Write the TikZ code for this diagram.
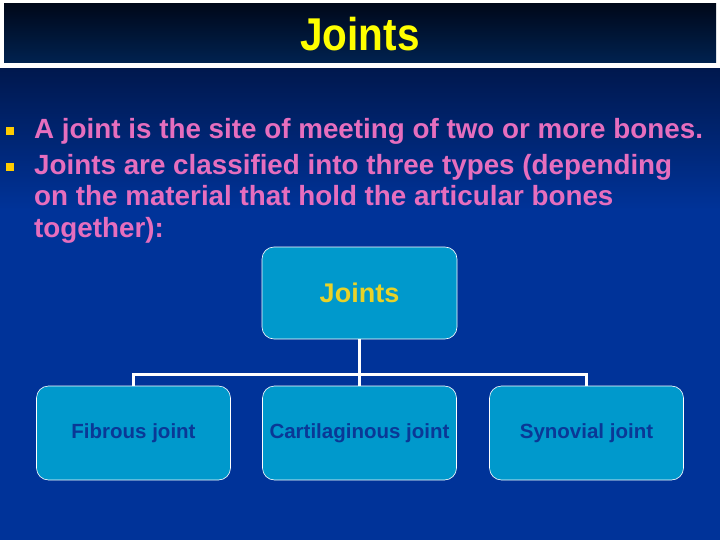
\documentclass[tikz,border=0pt]{standalone}
\usepackage{fontspec}
\setmainfont{Liberation Sans}
\usetikzlibrary{positioning,calc}
\definecolor{titleyellow}{RGB}{255,255,0}
\definecolor{bodypink}{RGB}{230,110,190}
\definecolor{bulletyellow}{RGB}{255,204,0}
\definecolor{boxfill}{RGB}{0,153,204}
\definecolor{boxtext}{RGB}{10,56,150}
\definecolor{boxyellow}{RGB}{232,210,40}
\definecolor{navytop}{RGB}{0,24,78}
\definecolor{navybot}{RGB}{0,51,153}
\definecolor{bartop}{RGB}{0,8,26}
\definecolor{barbot}{RGB}{0,34,80}
\tikzset{
  line/.style={anchor=base west, inner sep=0pt, text=bodypink,
               font=\bfseries\fontsize{27.8}{31}\selectfont},
  bullet/.style={fill=bulletyellow, minimum size=8pt, inner sep=0pt},
  topbox/.style={draw=white, rounded corners=12pt, fill=boxfill,
                 minimum width=195pt, minimum height=92pt, semithick,
                 text=boxyellow, font=\bfseries\fontsize{27}{30}\selectfont},
  kindbox/.style={topbox, minimum width=194pt, minimum height=94pt,
                  text=boxtext, font=\bfseries\fontsize{20.5}{24}\selectfont},
  conn/.style={draw=white, line width=3pt},
}
\begin{document}
\begin{tikzpicture}[x=1pt, y=-1pt]
  \useasboundingbox (0,0) rectangle (720,540);
  % background
  \fill[white] (0,0) rectangle (720,540);
  \shade[top color=bartop, bottom color=barbot] (4,4) rectangle (716,63);
  \shade[top color=navytop, bottom color=navybot] (0,69) rectangle (720,210);
  \fill[navybot] (0,209.5) rectangle (720,540);
  % title
  \node[text=titleyellow, font=\bfseries\fontsize{46}{50}\selectfont] (title)
    at (360,34) {\scalebox{0.88}[1]{Joints}};
  % bullets
  \node[bullet] (b1) at (10,131) {};
  \node[bullet] (b2) at (10,167) {};
  \node[line] (l1) at (34,139) {A joint is the site of meeting of two or more bones.};
  \node[line] (l2) at (34,175) {Joints are classified into three types (depending};
  \node[line] (l3) at (34,206) {on the material that hold the articular bones};
  \node[line] (l4) at (34,237) {together):};
  % tree
  \node[topbox] (joints) at (359.5,293) {Joints};
  \node[kindbox] (fib) at (133.5,433) {\raisebox{-2pt}{Fibrous joint}};
  \node[kindbox] (cart) at (359.5,433) {\raisebox{-2pt}{Cartilaginous joint}};
  \node[kindbox] (syn) at (586.5,433) {\raisebox{-2pt}{Synovial joint}};
  \coordinate (bar) at (359.5,374);
  \draw[conn] (joints.south) -- (cart.north);
  \draw[conn] (fib.north) |- (bar) -| (syn.north);
\end{tikzpicture}
\end{document}
